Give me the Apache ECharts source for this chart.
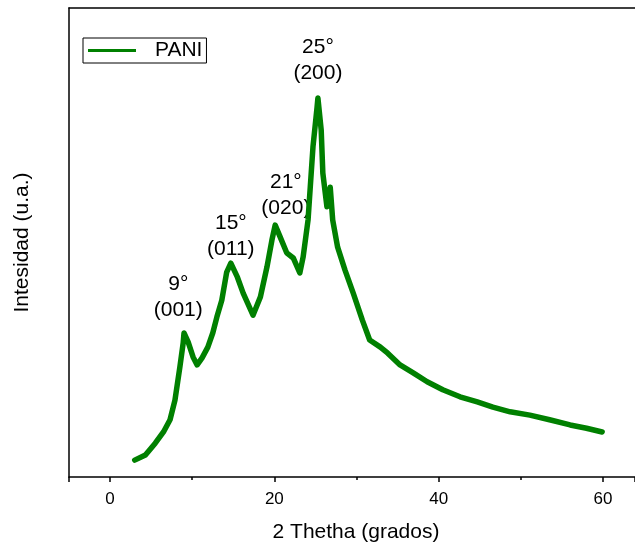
<!DOCTYPE html>
<html>
<head>
<meta charset="utf-8">
<script src="https://cdn.jsdelivr.net/npm/echarts@6/dist/echarts.min.js"></script>
<style>
  html, body { margin: 0; padding: 0; background: #fff; }
  #main { width: 635px; height: 550px; }
</style>
</head>
<body>
<div id="main"></div>
<script>
// 2 theta (grados)
var theta = [3.0, 4.3, 5.5, 6.5, 7.3, 7.9, 8.5, 8.9, 9.0, 9.5, 10.1, 10.6, 11.2, 11.9, 12.5, 13.0,
  13.6, 14.2, 14.7, 15.5, 16.2, 17.4, 18.3, 19.1, 19.7, 20.1, 20.7, 21.5, 22.3, 23.1, 23.5,
  24.1, 24.7, 25.2, 25.3, 25.7, 25.9, 26.4, 26.8, 27.1, 27.7, 28.6, 29.6, 30.7, 31.6, 32.9,
  33.8, 35.3, 36.9, 38.6, 40.5, 42.6, 44.7, 46.6, 48.7, 51.1, 53.5, 56.0, 58.0, 59.9];
// intensity (u.a.), arbitrary 0-100 scale
var intensity = [3.6, 4.7, 7.2, 9.6, 12.2, 16.4, 23.5, 28.6, 30.7, 28.8, 25.6, 23.9, 25.4, 27.7, 30.7, 34.1,
  37.7, 43.7, 45.6, 42.6, 39.2, 34.5, 38.4, 44.8, 50.5, 53.7, 51.2, 47.8, 46.7, 43.5, 46.9,
  54.8, 70.4, 78.9, 80.8, 74.0, 64.8, 57.6, 61.8, 54.8, 49.0, 44.1, 39.2, 33.5, 29.2, 27.7,
  26.4, 23.9, 22.2, 20.3, 18.6, 17.1, 16.0, 14.9, 13.9, 13.2, 12.2, 11.1, 10.4, 9.6];

// peak annotations
var peakText = ['9°\n(001)', '15°\n(011)', '21°\n(020)', '25°\n(200)'];
var peakX = [8.3, 14.7, 21.4, 25.3];
var peakY = [38.3, 51.3, 60.1, 88.9];

var xMajorLabels = [0, 20, 40, 60];

var chart = echarts.init(document.getElementById('main'));

var lineData = theta.map(function (t, i) { return [t, intensity[i]]; });
var peakData = peakText.map(function (s, i) { return { name: s, value: [peakX[i], peakY[i]] }; });

var font = 'Arial, "Liberation Sans", sans-serif';
var xMin = -5, xMax = 63.9;

chart.setOption({
  animation: false,
  backgroundColor: '#fff',
  textStyle: { fontFamily: font },
  grid: { left: 69, top: 8, bottom: 73, right: 0, outerBoundsMode: 'none', containLabel: false },
  legend: {
    data: ['PANI'],
    left: 83, top: 38,
    orient: 'vertical',
    icon: 'rect',
    itemWidth: 48, itemHeight: 3,
    padding: [2, 4, 2, 5],
    borderColor: '#000', borderWidth: 1,
    textStyle: { fontSize: 21, color: '#000', fontFamily: font, padding: [0, 0, 0, 14] }
  },
  xAxis: [{
    type: 'value',
    min: xMin, max: xMax,
    splitNumber: 3,
    minInterval: 20, maxInterval: 20,
    name: '2 Thetha (grados)',
    nameLocation: 'middle',
    nameGap: 45,
    nameTextStyle: { fontSize: 21, color: '#000', fontFamily: font, padding: [0, 0, 0, 8] },
    axisLine: { onZero: false, lineStyle: { color: '#000', width: 1.5 } },
    axisTick: { inside: false, length: 5, lineStyle: { color: '#000', width: 1.5 } },
    axisLabel: {
      fontSize: 17, color: '#000', margin: 14, fontFamily: font,
      formatter: function (v) { return xMajorLabels.indexOf(v) >= 0 ? String(v) : ''; }
    },
    splitLine: { show: false }
  }, {
    type: 'value',
    position: 'bottom',
    min: xMin, max: xMax,
    splitNumber: 7,
    minInterval: 10, maxInterval: 10,
    axisLine: { show: false, onZero: false },
    axisTick: { inside: false, length: 3, lineStyle: { color: '#000', width: 1.5 } },
    axisLabel: { show: false },
    splitLine: { show: false }
  }, {
    type: 'value',
    position: 'top',
    min: xMin, max: xMax,
    axisLine: { show: true, onZero: false, lineStyle: { color: '#000', width: 1.5 } },
    axisTick: { show: false },
    axisLabel: { show: false },
    splitLine: { show: false }
  }],
  yAxis: {
    type: 'value',
    min: 0, max: 100,
    name: 'Intesidad (u.a.)',
    nameLocation: 'middle',
    nameGap: 36,
    nameRotate: 90,
    nameTextStyle: { fontSize: 21, color: '#000', fontFamily: font },
    axisLine: { show: true, onZero: false, lineStyle: { color: '#000', width: 1.5 } },
    axisTick: { show: false },
    axisLabel: { show: false },
    splitLine: { show: false }
  },
  series: [{
    name: 'PANI',
    type: 'line',
    data: lineData,
    showSymbol: false,
    symbol: 'none',
    itemStyle: { color: '#008000' },
    lineStyle: { color: '#008000', width: 5.5, join: 'round', cap: 'round' }
  }, {
    name: 'peaks',
    type: 'scatter',
    data: peakData,
    symbolSize: 0,
    silent: true,
    itemStyle: { opacity: 1 },
    label: {
      show: true,
      position: 'inside',
      formatter: function (p) { return p.name; },
      fontSize: 21, lineHeight: 26, color: '#000', fontFamily: font, align: 'center',
      textBorderWidth: 0, textBorderColor: 'transparent'
    }
  }]
});
</script>
</body>
</html>
